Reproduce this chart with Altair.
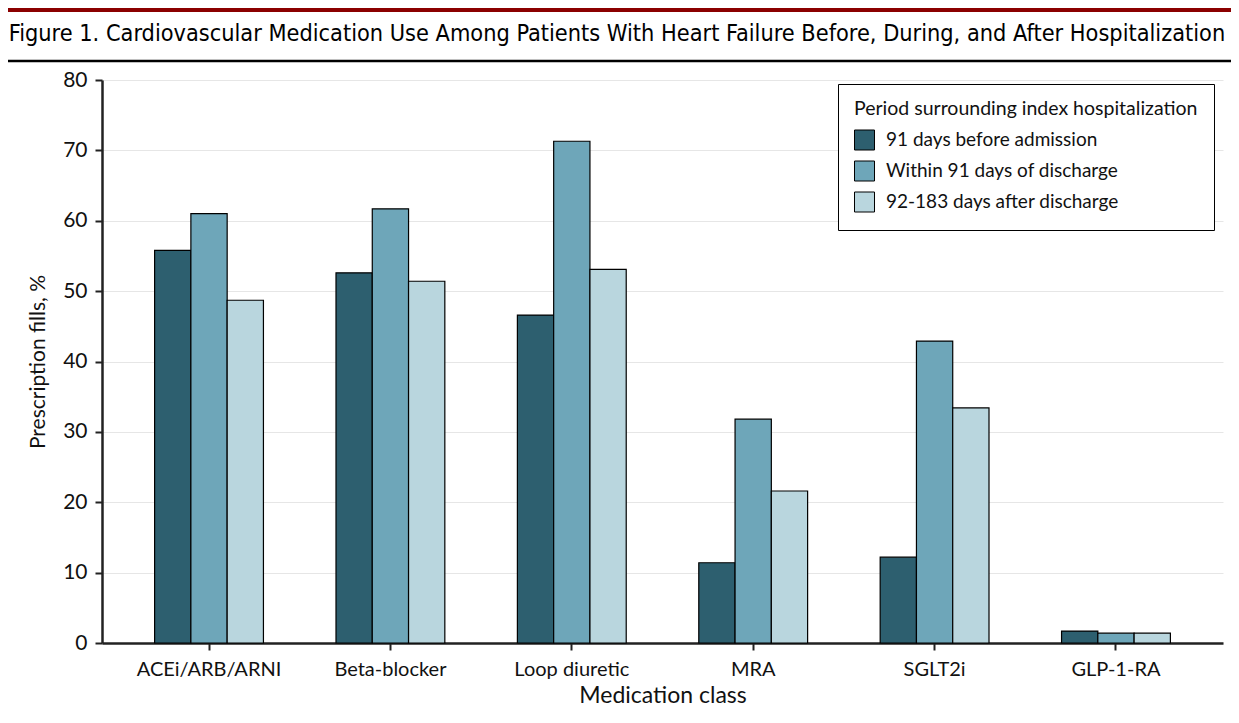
import altair as alt
import pandas as pd

categories = ["ACEi/ARB/ARNI", "Beta-blocker", "Loop diuretic", "MRA", "SGLT2i", "GLP-1-RA"]
periods = ["91 days before admission", "Within 91 days of discharge", "92-183 days after discharge"]
before_admission = [55.8, 52.6, 46.6, 11.4, 12.2, 1.7]
within_91_days = [61.0, 61.7, 71.3, 31.8, 42.9, 1.4]
days_92_183 = [48.7, 51.4, 53.1, 21.6, 33.4, 1.4]
colors = ["#2d5f6f", "#6ea6b9", "#b9d6de"]
y_ticks = [0, 10, 20, 30, 40, 50, 60, 70, 80]
fig_title = ("Figure 1. Cardiovascular Medication Use Among Patients With Heart Failure "
             "Before, During, and After Hospitalization")

rows = []
for series, name in zip([before_admission, within_91_days, days_92_183], periods):
    for cat, v in zip(categories, series):
        rows.append({"category": cat, "period": name, "value": v})
df = pd.DataFrame(rows)
title_df = pd.DataFrame({"t": [fig_title]})

FONT = "Lato"
W, H = 1121, 563

bars = alt.Chart(df).mark_bar(stroke="black", strokeWidth=1.2).encode(
    x=alt.X("category:N", sort=categories, title="Medication class",
            scale=alt.Scale(paddingInner=0.4, paddingOuter=0.29),
            axis=alt.Axis(labelAngle=0, labelFontSize=20, titleFontSize=23, labelPadding=9,
                          titlePadding=5, domainColor="#222", domainWidth=2.5,
                          tickColor="#222", tickWidth=2, tickSize=7, labelColor="#111",
                          titleColor="#111", titleFontWeight="normal", grid=False)),
    xOffset=alt.XOffset("period:N", sort=periods),
    y=alt.Y("value:Q", title="Prescription fills, %",
            scale=alt.Scale(domain=[0, 80], nice=False),
            axis=alt.Axis(values=y_ticks, labelFontSize=21, titleFontSize=21, labelPadding=8,
                          titlePadding=14, domainColor="#222", domainWidth=2.5,
                          tickColor="#222", tickWidth=2, tickSize=7, labelColor="#111",
                          titleColor="#111", titleFontWeight="normal",
                          gridColor="#e6e6e6", gridWidth=1)),
    color=alt.Color("period:N", sort=periods,
                    scale=alt.Scale(domain=periods, range=colors),
                    legend=alt.Legend(title="Period surrounding index hospitalization",
                                      orient="none", legendX=736, legendY=4,
                                      titleFontSize=19.5, labelFontSize=19,
                                      titleFontWeight="normal", titleColor="#111",
                                      labelColor="#111", symbolType="square",
                                      symbolSize=400, symbolStrokeColor="black",
                                      symbolStrokeWidth=1, symbolOpacity=1,
                                      fillColor="white", strokeColor="black",
                                      padding=16, rowPadding=6, titlePadding=10,
                                      labelOffset=11, labelLimit=400, titleLimit=500)),
)

red_line = alt.Chart(title_df).mark_rule(color="#8b0000", strokeWidth=4).encode(
    x=alt.value(-110), x2=alt.value(1140), y=alt.value(-70))
black_line = alt.Chart(title_df).mark_rule(color="black", strokeWidth=2.5).encode(
    x=alt.value(-110), x2=alt.value(1140), y=alt.value(-19))
title_text = alt.Chart(title_df).mark_text(
    font="'DejaVu Sans Condensed', Lato", fontSize=23.3, color="black", align="center",
    baseline="middle").encode(x=alt.value(515), y=alt.value(-46), text="t:N")

chart = alt.layer(bars, red_line, black_line, title_text).properties(
    width=W, height=H,
    autosize=alt.AutoSizeParams(type="none"),
    padding={"left": 94, "top": 72, "right": 8, "bottom": 72},
).configure(font=FONT).configure_view(stroke=None)

chart.save("out.html", embed_options={"renderer": "svg", "actions": False})
